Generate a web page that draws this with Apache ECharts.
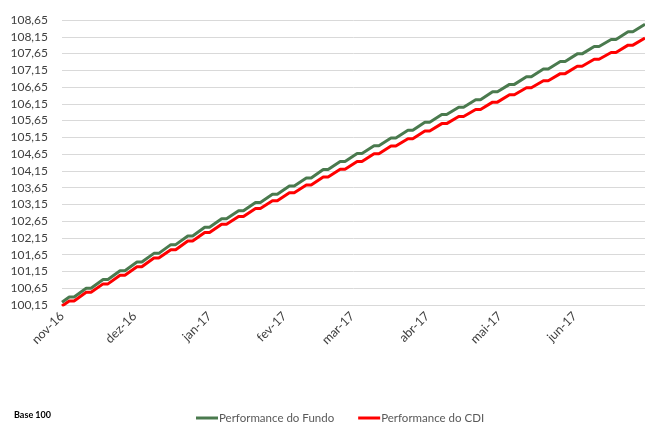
<!DOCTYPE html>
<html>
<head>
<meta charset="utf-8">
<script src="https://cdn.jsdelivr.net/npm/echarts@6/dist/echarts.min.js"></script>
<style>
html,body{margin:0;padding:0;background:#fff;}
#c{width:645px;height:423px;}
</style>
</head>
<body>
<div id="c"></div>
<script>
// Dates (daily series sampled at Fridays and the following Sundays – weekend values carried)
const datas = [
'2016-11-01',
'2016-11-04','2016-11-06','2016-11-11','2016-11-13','2016-11-18','2016-11-20','2016-11-25','2016-11-27',
'2016-12-02','2016-12-04','2016-12-09','2016-12-11','2016-12-16','2016-12-18','2016-12-23','2016-12-25','2016-12-30','2017-01-01',
'2017-01-06','2017-01-08','2017-01-13','2017-01-15','2017-01-20','2017-01-22','2017-01-27','2017-01-29',
'2017-02-03','2017-02-05','2017-02-10','2017-02-12','2017-02-17','2017-02-19','2017-02-24','2017-02-26',
'2017-03-03','2017-03-05','2017-03-10','2017-03-12','2017-03-17','2017-03-19','2017-03-24','2017-03-26','2017-03-31','2017-04-02',
'2017-04-07','2017-04-09','2017-04-14','2017-04-16','2017-04-21','2017-04-23','2017-04-28','2017-04-30',
'2017-05-05','2017-05-07','2017-05-12','2017-05-14','2017-05-19','2017-05-21','2017-05-26','2017-05-28',
'2017-06-02','2017-06-04','2017-06-09','2017-06-11','2017-06-16','2017-06-18','2017-06-23','2017-06-25','2017-06-30'
];

const fundo = [
100.23,
100.39,100.39,100.65,100.65,100.91,100.91,101.17,101.17,
101.43,101.43,101.69,101.69,101.95,101.95,102.21,102.21,102.47,102.47,
102.72,102.72,102.96,102.96,103.21,103.21,103.45,103.45,
103.70,103.70,103.94,103.94,104.19,104.19,104.43,104.43,
104.67,104.67,104.90,104.90,105.13,105.13,105.36,105.36,105.60,105.60,
105.83,105.83,106.05,106.05,106.27,106.27,106.51,106.51,
106.73,106.73,106.96,106.96,107.19,107.19,107.41,107.41,
107.64,107.64,107.86,107.86,108.07,108.07,108.30,108.30,108.52
];

const cdi = [
100.12,
100.27,100.27,100.53,100.53,100.78,100.78,101.04,101.04,
101.29,101.29,101.55,101.55,101.80,101.80,102.06,102.06,102.31,102.31,
102.56,102.56,102.79,102.79,103.03,103.03,103.26,103.26,
103.50,103.50,103.73,103.73,103.97,103.97,104.20,104.20,
104.43,104.43,104.66,104.66,104.89,104.89,105.11,105.11,105.34,105.34,
105.56,105.56,105.77,105.77,105.98,105.98,106.20,106.20,
106.42,106.42,106.63,106.63,106.84,106.84,107.05,107.05,
107.27,107.27,107.48,107.48,107.68,107.68,107.90,107.90,108.11
];

const tickDates = ['2016-11-01','2016-12-01','2017-01-01','2017-02-01','2017-03-01','2017-04-01','2017-05-01','2017-06-01'];
const tickLabels = ['nov-16','dez-16','jan-17','fev-17','mar-17','abr-17','mai-17','jun-17'];
const axisStart = '2016-11-01';
const axisEnd = '2017-06-30';

const yMin = 100.15, yMax = 108.65, yStep = 0.5;

function ts(s){ const p = s.split('-').map(Number); return Date.UTC(p[0], p[1]-1, p[2]); }
const tickTs = tickDates.map(ts);

const chart = echarts.init(document.getElementById('c'), null, {renderer:'canvas'});
const FONT = 'Lato';
chart.setOption({
  animation:false,
  backgroundColor:'#ffffff',
  textStyle:{fontFamily:FONT},
  grid:{left:62, right:-3, top:20, bottom:118, containLabel:false},
  xAxis:{
    type:'value',
    min: ts(axisStart), max: ts(axisEnd),
    axisLine:{show:true, lineStyle:{color:'#d9d9d9', width:1}},
    axisTick:{show:false, customValues: tickTs},
    splitLine:{show:false},
    axisLabel:{
      customValues: tickTs,
      rotate:45, margin:9,
      color:'#404040', fontSize:12.5, fontFamily:FONT,
      formatter:function(v){ const i = tickTs.indexOf(v); return i>=0 ? tickLabels[i] : ''; }
    }
  },
  yAxis:{
    type:'value', min:yMin, max:yMax, interval:yStep,
    axisLine:{show:false}, axisTick:{show:false},
    splitLine:{show:true, lineStyle:{color:'#d9d9d9', width:1}},
    axisLabel:{color:'#404040', fontSize:12, fontFamily:FONT, margin:14,
      formatter:function(v){ return v.toFixed(2).replace('.', ','); }}
  },
  legend:{
    data:['Performance do Fundo','Performance do CDI'],
    left:191, top:407, itemGap:24, itemWidth:22, itemHeight:3, icon:'rect',
    textStyle:{color:'#595959', fontSize:11.5, fontFamily:FONT, padding:[0,0,0,-4]}
  },
  title:{
    text:'Base 100', left:9, top:406,
    textStyle:{fontSize:9, fontWeight:'bold', color:'#000', fontFamily:FONT}
  },
  series:[
    {name:'Performance do CDI', type:'line', showSymbol:false, symbol:'none',
     color:'#ff0000', lineStyle:{color:'#ff0000', width:3},
     data: datas.map((d,i)=>[ts(d), cdi[i]])},
    {name:'Performance do Fundo', type:'line', showSymbol:false, symbol:'none',
     color:'#4a7a4e', lineStyle:{color:'#4a7a4e', width:3},
     data: datas.map((d,i)=>[ts(d), fundo[i]])}
  ]
});
</script>
</body>
</html>
